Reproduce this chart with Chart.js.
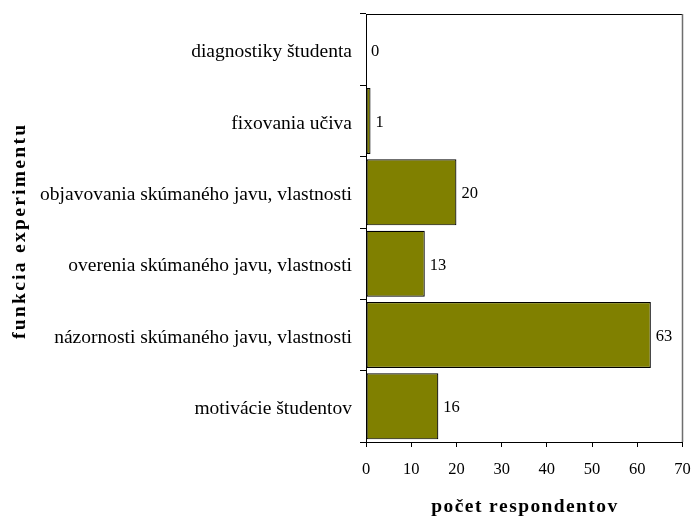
<!DOCTYPE html>
<html>
<head>
<meta charset="utf-8">
<script src="https://cdn.jsdelivr.net/npm/chart.js@4/dist/chart.umd.min.js"></script>
<style>
  html, body { margin: 0; padding: 0; background: #ffffff; }
  canvas { display: block; }
</style>
</head>
<body>
<canvas id="chart" width="692" height="518"></canvas>
<script>
// Functions of the experiment and how many respondents chose each one
const categories = [
  'diagnostiky študenta',
  'fixovania učiva',
  'objavovania skúmaného javu, vlastnosti',
  'overenia skúmaného javu, vlastnosti',
  'názornosti skúmaného javu, vlastnosti',
  'motivácie študentov'
];
const respondents = [0, 1, 20, 13, 63, 16];
const xTicks = [0, 10, 20, 30, 40, 50, 60, 70];
const xTitle = 'počet respondentov';
const yTitle = 'funkcia experimentu';

const SERIF = '"Liberation Serif", "Times New Roman", Times, serif';

// Draw a string one glyph at a time with extra tracking between glyphs
function drawSpaced(ctx, text, x, y, spacing, align) {
  const chars = Array.from(text);
  const widths = chars.map(c => ctx.measureText(c).width);
  const total = widths.reduce((a, b) => a + b, 0) + spacing * (chars.length - 1);
  let cx = x;
  if (align === 'center') cx = x - total / 2;
  else if (align === 'right') cx = x - total;
  const prevAlign = ctx.textAlign;
  ctx.textAlign = 'left';
  chars.forEach((c, i) => {
    ctx.fillText(c, cx, y);
    cx += widths[i] + spacing;
  });
  ctx.textAlign = prevAlign;
}

const decorations = {
  id: 'decorations',
  afterDraw(chart) {
    const ctx = chart.ctx;
    const area = chart.chartArea;
    const yScale = chart.scales.y;
    ctx.save();

    // plot frame: top edge and right edge
    ctx.lineWidth = 1;
    ctx.strokeStyle = '#000000';
    ctx.beginPath();
    ctx.moveTo(area.left, area.top + 0.5);
    ctx.lineTo(area.right, area.top + 0.5);
    ctx.stroke();
    ctx.strokeStyle = '#6e6e6e';
    ctx.lineWidth = 1.5;
    ctx.beginPath();
    ctx.moveTo(area.right, area.top);
    ctx.lineTo(area.right, area.bottom);
    ctx.stroke();

    // category labels
    ctx.fillStyle = '#000000';
    ctx.font = '19.5px ' + SERIF;
    ctx.textBaseline = 'alphabetic';
    categories.forEach((label, i) => {
      drawSpaced(ctx, label, yScale.right - 14, yScale.getPixelForTick(i) + 7.5, 0, 'right');
    });

    // value labels at the end of each bar
    const meta = chart.getDatasetMeta(0);
    ctx.font = '16.5px ' + SERIF;
    meta.data.forEach((bar, i) => {
      drawSpaced(ctx, String(respondents[i]), bar.x + 5, bar.y + 6, 0, 'left');
    });

    // axis titles
    ctx.font = 'bold 19.5px ' + SERIF;
    drawSpaced(ctx, xTitle, (area.left + area.right) / 2, 512, 1.4, 'center');

    ctx.save();
    ctx.translate(25, (area.top + area.bottom) / 2 + 4);
    ctx.rotate(-Math.PI / 2);
    drawSpaced(ctx, yTitle, 0, 0, 2.3, 'center');
    ctx.restore();

    ctx.restore();
  }
};

new Chart(document.getElementById('chart'), {
  type: 'bar',
  data: {
    labels: categories,
    datasets: [{
      label: xTitle,
      data: respondents,
      backgroundColor: '#808000',
      borderColor: '#000000',
      borderWidth: 1.2,
      borderSkipped: false,
      categoryPercentage: 1.0,
      barPercentage: 0.925
    }]
  },
  options: {
    indexAxis: 'y',
    responsive: false,
    animation: false,
    devicePixelRatio: 1,
    layout: { padding: { top: 14, right: 9.5, left: 0, bottom: 0 } },
    plugins: {
      legend: { display: false },
      tooltip: { enabled: false }
    },
    scales: {
      x: {
        type: 'linear',
        min: xTicks[0],
        max: xTicks[xTicks.length - 1],
        afterBuildTicks(scale) {
          scale.ticks = xTicks.map(v => ({ value: v }));
        },
        afterFit(scale) {
          scale.height = 76;
          scale.paddingLeft = 0;
          scale.paddingRight = 0;
        },
        grid: {
          drawOnChartArea: false,
          drawTicks: true,
          tickLength: 5,
          color: '#000000'
        },
        border: { display: true, color: '#000000', width: 1 },
        ticks: {
          color: '#000000',
          padding: 13,
          maxRotation: 0,
          font: { family: SERIF, size: 16.5 }
        },
        title: { display: false }
      },
      y: {
        type: 'category',
        afterFit(scale) {
          scale.width = 366;
          scale.paddingTop = 0;
          scale.paddingBottom = 0;
        },
        grid: {
          offset: true,
          drawOnChartArea: false,
          drawTicks: true,
          tickLength: 6,
          color: '#000000'
        },
        border: { display: true, color: '#000000', width: 1 },
        ticks: { display: false },
        title: { display: false }
      }
    }
  },
  plugins: [decorations]
});
</script>
</body>
</html>
